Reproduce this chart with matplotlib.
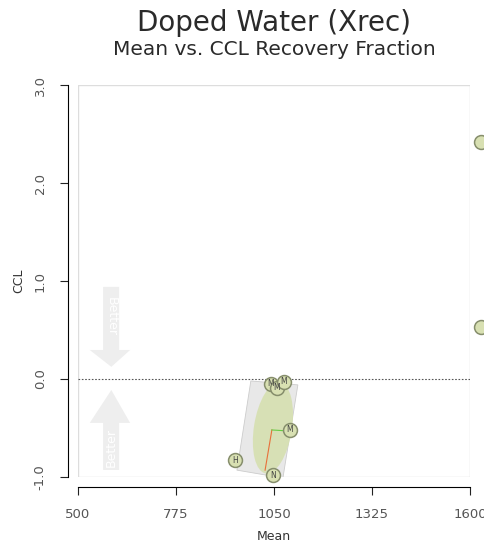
import matplotlib.pyplot as plt
import matplotlib.transforms as mtransforms
from matplotlib.patches import Ellipse, Polygon

# points: mean vs CCL
mean_vals = [1631, 1631, 1041, 1058, 1078, 1095, 941, 1047]
ccl_vals = [2.42, 0.53, -0.05, -0.09, -0.03, -0.52, -0.83, -0.98]
pt_labels = ["", "", "M", "M", "M", "M", "H", "N"]

# cluster summary shapes (data units)
box_x = [985, 1117, 1075, 946]
box_y = [-0.02, -0.06, -1.01, -0.93]
center = (1047, -0.50)
median_pt = (1044, -0.52)
red_end = (1025, -0.93)
green_end = (1089, -0.53)

xticks = [500, 775, 1050, 1325, 1600]
yticks = [-1.0, 0.0, 1.0, 2.0, 3.0]

fig = plt.figure(figsize=(4.84, 5.47), dpi=100)
ax = fig.add_axes([78 / 484, 70 / 547, 392 / 484, 392 / 547])
ax.set_xlim(500, 1600)
ax.set_ylim(-1, 3)

# detached R-style axes
for s in ["top", "right"]:
    ax.spines[s].set_visible(False)
ax.spines["left"].set_position(("outward", 7.5))
ax.spines["bottom"].set_position(("outward", 7.5))
ax.spines["left"].set_bounds(-1, 3)
ax.spines["bottom"].set_bounds(500, 1600)
ax.add_patch(plt.Rectangle((0, 0), 1, 1, transform=ax.transAxes, fill=False,
                           edgecolor="#dddddd", lw=1, zorder=0))

ax.set_xticks(xticks)
ax.set_xticklabels([str(t) for t in xticks])
ax.set_yticks(yticks)
ax.set_yticklabels(["%.1f" % t for t in yticks], rotation=90, va="center")
ax.tick_params(colors="#222222", labelcolor="#555555", labelsize=9.5, length=6)
ax.tick_params(axis="x", pad=9)
ax.tick_params(axis="y", pad=9)
ax.set_xlabel("Mean", fontsize=9, color="#333333", labelpad=6)
ax.set_ylabel("CCL", fontsize=9, color="#333333", labelpad=6)

# "Better" arrows
arrow_col = "#eeeeee"
down = Polygon([[0.064, 0.485], [0.105, 0.485], [0.105, 0.324], [0.133, 0.324],
                [0.085, 0.281], [0.03, 0.324], [0.064, 0.324]],
               closed=True, transform=ax.transAxes, color=arrow_col, lw=0, zorder=1)
up = Polygon([[0.064, 0.018], [0.105, 0.018], [0.105, 0.138], [0.133, 0.138],
              [0.085, 0.222], [0.03, 0.138], [0.064, 0.138]],
             closed=True, transform=ax.transAxes, color=arrow_col, lw=0, zorder=1)
ax.add_patch(down)
ax.add_patch(up)
ax.text(0.085, 0.41, "Better", transform=ax.transAxes, rotation=-90, ha="center",
        va="center", color="white", fontsize=9, zorder=2)
ax.text(0.085, 0.075, "Better", transform=ax.transAxes, rotation=90, ha="center",
        va="center", color="white", fontsize=9, zorder=2)

ax.axhline(0, color="#555555", lw=0.8, ls=(0, (1.5, 1.5)), zorder=2)

# cluster box and ellipse
ax.add_patch(Polygon(list(zip(box_x, box_y)), closed=True, facecolor="#e8e8e8",
                     edgecolor="#cccccc", lw=0.6, zorder=3))
tr = fig.dpi_scale_trans + mtransforms.ScaledTranslation(center[0], center[1], ax.transData)
ax.add_patch(Ellipse((0, 0), 0.38, 0.92, angle=-9, transform=tr,
                     facecolor="#d6e0b0", edgecolor="none", alpha=0.9, zorder=4))
ax.plot([median_pt[0], red_end[0]], [median_pt[1], red_end[1]], color="#e8703a", lw=0.8, zorder=5)
ax.plot([median_pt[0], green_end[0]], [median_pt[1], green_end[1]], color="#66cc44", lw=0.8, zorder=5)

ax.scatter(mean_vals, ccl_vals, s=100, facecolor="#d8e0b2", edgecolor="#868e6c",
           lw=1.1, zorder=6, clip_on=False)
for x, y, lab in zip(mean_vals, ccl_vals, pt_labels):
    if lab:
        ax.text(x, y, lab, ha="center", va="center", fontsize=5.5, color="#444444", zorder=7)

fig.text(274 / 484, 1 - 31 / 547, "Doped Water (Xrec)", ha="center", va="baseline",
         fontsize=20, color="#2a2a2a")
fig.text(274 / 484, 1 - 55 / 547, "Mean vs. CCL Recovery Fraction", ha="center",
         va="baseline", fontsize=14.5, color="#2a2a2a")

fig.savefig("out.png", dpi=100)
